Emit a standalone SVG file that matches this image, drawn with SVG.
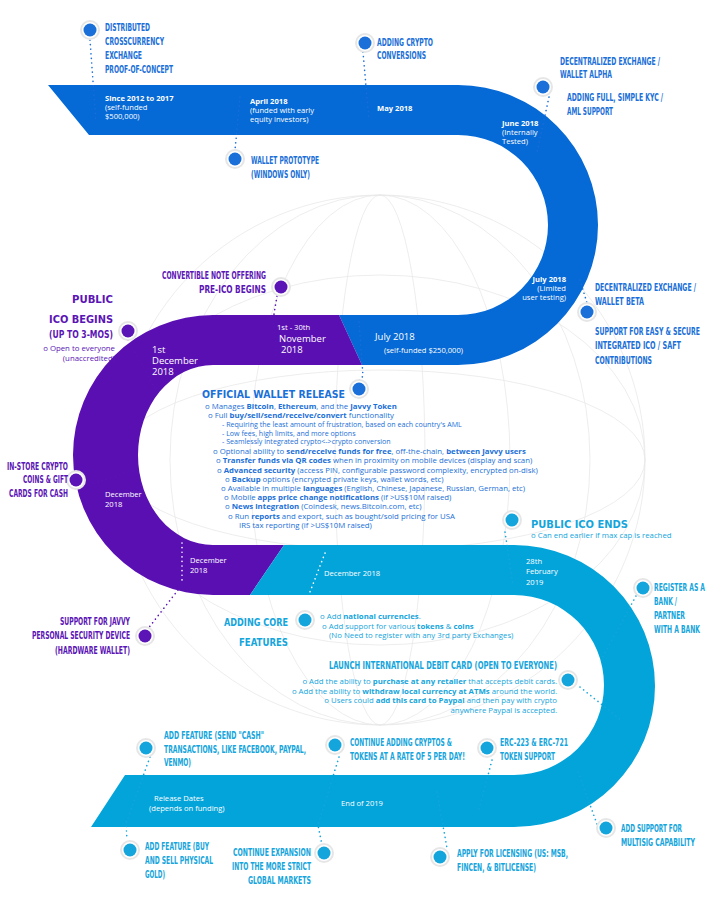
<svg xmlns="http://www.w3.org/2000/svg" width="710" height="911" viewBox="0 0 710 911">
<style>
.h{font-family:"DejaVu Sans Condensed","Liberation Sans Narrow",sans-serif;font-weight:bold;font-size:11px}
.b{font-family:"Open Sans",Lato,sans-serif;font-size:7.8px}
.w{fill:#fff;font-family:"Open Sans",Lato,sans-serif;font-size:7.6px}
.wb{fill:#fff;font-family:"Open Sans",Lato,sans-serif;font-size:9.5px}
.bl{fill:#1a6fd8}.pu{fill:#5b14b5}.cy{fill:#14a5dc}
.s{font-weight:bold}
.dot{fill:none;stroke-width:1.6;stroke-linecap:round;stroke-dasharray:0.1 4.5}
.ring{fill:#fff;stroke:#e6e6e6;stroke-width:2}
.g{fill:none;stroke:#e9e9e9;stroke-width:0.8}
</style>
<rect width="710" height="911" fill="#fff"/>
<g id="globe">
<circle class="g" cx="380" cy="460" r="265"/>
<ellipse class="g" cx="380" cy="460" rx="265" ry="90"/>
<ellipse class="g" cx="380" cy="460" rx="130" ry="265"/>
<ellipse class="g" cx="380" cy="460" rx="210" ry="265"/>
<ellipse class="g" cx="380" cy="460" rx="265" ry="185"/>
<ellipse class="g" cx="380" cy="460" rx="45" ry="265"/>
</g>
<g id="bands">
<path fill="#0569d6" d="M48,85 L458,85 A140,140 0 0 1 458,365 L362,365 L339,315 L458,315 A90,90 0 0 0 458,135 L89,135 Z"/>
<path fill="#5a0fb3" d="M339,315 L362,365 L213,365 A75,90 0 0 0 213,545 L284,545 L250,595 L213,595 A140,140 0 0 1 213,315 Z"/>
<path fill="#03a4da" d="M284,545 L514,545 A141,141 0 0 1 514,827 L91,827 L125,775 L514,775 A90,90 0 0 0 514,595 L250,595 Z"/>
</g>
<g id="connectors">
<path class="dot" stroke="#1a6fd8" d="M90,40 L96,122"/>
<path class="dot" stroke="#1a6fd8" d="M240,97 L235,150"/>
<path class="dot" stroke="#1a6fd8" d="M363,52 L369,120"/>
<path class="dot" stroke="#1a6fd8" d="M549,97 L537,152"/>
<path class="dot" stroke="#1a6fd8" d="M580,280 L587,303"/>
<path class="dot" stroke="#1a6fd8" d="M359,322 L363,376 L359,381"/>
<path class="dot" stroke="#5b14b5" d="M277,296 L273,320 L277,356"/>
<path class="dot" stroke="#5b14b5" d="M128,340 L157,392"/>
<path class="dot" stroke="#5b14b5" d="M89,485 L134,470"/>
<path class="dot" stroke="#fff" d="M182,543 L182,583"/>
<path class="dot" stroke="#5b14b5" d="M178,590 L147,630"/>
<path class="dot" stroke="#fff" d="M325,553 L303,610"/>
<path class="dot" stroke="#14a5dc" d="M505,532 L513,585"/>
<path class="dot" stroke="#14a5dc" d="M636,596 L601,660"/>
<path class="dot" stroke="#14a5dc" d="M580,687 L621,720"/>
<path class="dot" stroke="#14a5dc" d="M150,757 L126,823 L127,840"/>
<path class="dot" stroke="#14a5dc" d="M339,757 L318,825 L322,845"/>
<path class="dot" stroke="#14a5dc" d="M492,760 L478,813"/>
<path class="dot" stroke="#14a5dc" d="M437,792 L447,848"/>
<path class="dot" stroke="#14a5dc" d="M578,772 L597,824"/>
</g>
<g id="band-labels">
<text class="w s" x="105" y="101">Since 2012 to 2017</text>
<text class="w" x="105" y="110">(self-funded</text>
<text class="w" x="105" y="119">$500,000)</text>
<text class="w s" x="250" y="104">April 2018</text>
<text class="w" x="250" y="113">(funded with early</text>
<text class="w" x="250" y="122">equity investors)</text>
<text class="w s" x="377" y="111">May 2018</text>
<text class="w s" x="502" y="126">June 2018</text>
<text class="w" x="502" y="135">(Internally</text>
<text class="w" x="502" y="144">Tested)</text>
<text class="w s" x="566" y="282" text-anchor="end">July 2018</text>
<text class="w" x="566" y="291" text-anchor="end">(Limited</text>
<text class="w" x="566" y="300" text-anchor="end">user testing)</text>
<text class="w" x="277" y="330" font-size="6.5">1st - 30th</text>
<text class="wb" x="279" y="342">November</text>
<text class="wb" x="281" y="353">2018</text>
<text class="wb" x="375" y="340">July 2018</text>
<text class="w" x="384" y="353">(self-funded $250,000)</text>
<text class="wb" x="152" y="353">1st</text>
<text class="wb" x="152" y="364">December</text>
<text class="wb" x="152" y="375">2018</text>
<text class="w" x="105" y="497" font-size="8.3">December</text>
<text class="w" x="105" y="507" font-size="8.3">2018</text>
<text class="w" x="190" y="563" font-size="8.3">December</text>
<text class="w" x="190" y="573" font-size="8.3">2018</text>
<text class="w" x="324" y="576" font-size="8.3">December 2018</text>
<text class="w" x="526" y="564" font-size="8.6">28th</text>
<text class="w" x="526" y="574" font-size="8.6">February</text>
<text class="w" x="526" y="585" font-size="8.6">2019</text>
<text class="w" x="154" y="801">Release Dates</text>
<text class="w" x="149" y="811">(depends on funding)</text>
<text class="w" x="341" y="806" font-size="8.6">End of 2019</text>
</g>
<g id="n1"><circle class="ring" cx="90" cy="30" r="9"/><circle cx="90" cy="30" r="6.5" fill="#1a6fd8"/>
<text class="h bl" x="105" y="31" textLength="45" lengthAdjust="spacingAndGlyphs">DISTRIBUTED</text>
<text class="h bl" x="105" y="45" textLength="59" lengthAdjust="spacingAndGlyphs">CROSSCURRENCY</text>
<text class="h bl" x="105" y="59" textLength="37" lengthAdjust="spacingAndGlyphs">EXCHANGE</text>
<text class="h bl" x="105" y="73" textLength="68" lengthAdjust="spacingAndGlyphs">PROOF-OF-CONCEPT</text></g>
<g id="n2"><circle class="ring" cx="235" cy="159" r="9"/><circle cx="235" cy="159" r="6.5" fill="#1a6fd8"/>
<text class="h bl" x="251" y="164" textLength="68" lengthAdjust="spacingAndGlyphs">WALLET PROTOTYPE</text>
<text class="h bl" x="251" y="178" textLength="59" lengthAdjust="spacingAndGlyphs">(WINDOWS ONLY)</text></g>
<g id="n3"><circle class="ring" cx="365" cy="43" r="9"/><circle cx="365" cy="43" r="6.5" fill="#1a6fd8"/>
<text class="h bl" x="377" y="46" textLength="56" lengthAdjust="spacingAndGlyphs">ADDING CRYPTO</text>
<text class="h bl" x="377" y="59" textLength="49" lengthAdjust="spacingAndGlyphs">CONVERSIONS</text></g>
<g id="n4"><circle class="ring" cx="543" cy="87" r="9"/><circle cx="543" cy="87" r="6.5" fill="#1a6fd8"/>
<text class="h bl" x="560" y="65" textLength="100" lengthAdjust="spacingAndGlyphs">DECENTRALIZED EXCHANGE /</text>
<text class="h bl" x="560" y="78" textLength="52" lengthAdjust="spacingAndGlyphs">WALLET ALPHA</text>
<text class="h bl" x="567" y="101" textLength="96" lengthAdjust="spacingAndGlyphs">ADDING FULL, SIMPLE KYC /</text>
<text class="h bl" x="567" y="115" textLength="46" lengthAdjust="spacingAndGlyphs">AML SUPPORT</text></g>
<g id="n5"><circle class="ring" cx="587" cy="312" r="9"/><circle cx="587" cy="312" r="6.5" fill="#1a6fd8"/>
<text class="h bl" x="595" y="291" textLength="101" lengthAdjust="spacingAndGlyphs">DECENTRALIZED EXCHANGE /</text>
<text class="h bl" x="595" y="305" textLength="49" lengthAdjust="spacingAndGlyphs">WALLET BETA</text>
<text class="h bl" x="595" y="335" textLength="105" lengthAdjust="spacingAndGlyphs">SUPPORT FOR EASY &amp; SECURE</text>
<text class="h bl" x="595" y="349" textLength="86" lengthAdjust="spacingAndGlyphs">INTEGRATED ICO / SAFT</text>
<text class="h bl" x="595" y="364" textLength="57" lengthAdjust="spacingAndGlyphs">CONTRIBUTIONS</text></g>
<g id="n6"><circle class="ring" cx="281" cy="287" r="9"/><circle cx="281" cy="287" r="6.5" fill="#5b14b5"/>
<text class="h pu" x="266" y="279" text-anchor="end" textLength="104" lengthAdjust="spacingAndGlyphs">CONVERTIBLE NOTE OFFERING</text>
<text class="h pu" x="266" y="293" text-anchor="end" textLength="67" lengthAdjust="spacingAndGlyphs" font-size="12">PRE-ICO BEGINS</text></g>
<g id="n7"><circle class="ring" cx="128" cy="331" r="9"/><circle cx="128" cy="331" r="6.5" fill="#5b14b5"/>
<text class="h pu" x="113" y="303" text-anchor="end" textLength="41" lengthAdjust="spacingAndGlyphs" font-size="17">PUBLIC</text>
<text class="h pu" x="113" y="323" text-anchor="end" textLength="64" lengthAdjust="spacingAndGlyphs" font-size="17">ICO BEGINS</text>
<text class="h pu" x="113" y="338" text-anchor="end" textLength="64" lengthAdjust="spacingAndGlyphs" font-size="12">(UP TO 3-MOS)</text>
<text class="b pu" x="115" y="351" text-anchor="end">o Open to everyone</text>
<text class="b pu" x="115" y="361" text-anchor="end">(unaccredited)</text></g>
<g id="n8"><circle class="ring" cx="359" cy="389" r="9"/><circle cx="359" cy="389" r="6.5" fill="#1a6fd8"/>
<text class="h bl" x="202" y="398" textLength="143" lengthAdjust="spacingAndGlyphs" font-size="17">OFFICIAL WALLET RELEASE</text>
<g class="b bl">
<text x="205" y="409">o Manages <tspan class="s">Bitcoin</tspan>, <tspan class="s">Ethereum</tspan>, and the <tspan class="s">Javvy Token</tspan></text>
<text x="208" y="418">o Full <tspan class="s">buy/sell/send/receive/convert</tspan> functionality</text>
<text x="222" y="427" font-size="7.1">-   Requiring the least amount of frustration, based on each country's AML</text>
<text x="222" y="436" font-size="7.1">-   Low fees, high limits, and more options</text>
<text x="222" y="444" font-size="7.1">-   Seamlessly integrated crypto&lt;-&gt;crypto conversion</text>
<text x="213" y="454">o Optional ability to <tspan class="s">send/receive funds for free</tspan>, off-the-chain, <tspan class="s">between Javvy users</tspan></text>
<text x="216" y="463">o <tspan class="s">Transfer funds via QR codes</tspan> when in proximity on mobile devices (display and scan)</text>
<text x="217" y="473">o <tspan class="s">Advanced security</tspan> (access PIN, configurable password complexity, encrypted on-disk)</text>
<text x="225" y="482">o <tspan class="s">Backup</tspan> options (encrypted private keys, wallet words, etc)</text>
<text x="221" y="491">o Available in multiple <tspan class="s">languages</tspan> (English, Chinese, Japanese, Russian, German, etc)</text>
<text x="224" y="500">o Mobile <tspan class="s">apps price change notifications</tspan> (if  &gt;US$10M raised)</text>
<text x="225" y="509">o <tspan class="s">News integration</tspan> (Coindesk, news.Bitcoin.com, etc)</text>
<text x="228" y="519">o Run <tspan class="s">reports</tspan> and export, such as bought/sold pricing for USA</text>
<text x="239" y="528">IRS tax reporting (if &gt;US$10M raised)</text>
</g></g>
<g id="n9"><circle class="ring" cx="76" cy="480" r="9"/><circle cx="76" cy="480" r="6.5" fill="#5b14b5"/>
<text class="h pu" x="68" y="470" text-anchor="end" textLength="61" lengthAdjust="spacingAndGlyphs">IN-STORE CRYPTO</text>
<text class="h pu" x="68" y="483" text-anchor="end" textLength="45" lengthAdjust="spacingAndGlyphs">COINS &amp; GIFT</text>
<text class="h pu" x="68" y="497" text-anchor="end" textLength="59" lengthAdjust="spacingAndGlyphs">CARDS FOR CASH</text></g>
<g id="n10"><circle class="ring" cx="145" cy="636" r="9"/><circle cx="145" cy="636" r="6.5" fill="#5b14b5"/>
<text class="h pu" x="130" y="625" text-anchor="end" textLength="70" lengthAdjust="spacingAndGlyphs">SUPPORT FOR JAVVY</text>
<text class="h pu" x="130" y="639" text-anchor="end" textLength="98" lengthAdjust="spacingAndGlyphs">PERSONAL SECURITY DEVICE</text>
<text class="h pu" x="130" y="654" text-anchor="end" textLength="75" lengthAdjust="spacingAndGlyphs">(HARDWARE WALLET)</text></g>
<g id="n11"><circle class="ring" cx="305" cy="620" r="9"/><circle cx="305" cy="620" r="6.5" fill="#14a5dc"/>
<text class="h cy" x="288" y="626" text-anchor="end" textLength="64" lengthAdjust="spacingAndGlyphs" font-size="15">ADDING CORE</text>
<text class="h cy" x="288" y="646" text-anchor="end" textLength="49" lengthAdjust="spacingAndGlyphs" font-size="15">FEATURES</text>
<text class="b cy" x="320" y="619">o Add <tspan class="s">national currencies</tspan>.</text>
<text class="b cy" x="322" y="629">o Add support for various <tspan class="s">tokens</tspan> &amp; <tspan class="s">coins</tspan></text>
<text class="b cy" x="329" y="638">(No Need to register with any 3rd party Exchanges)</text></g>
<g id="n12"><circle class="ring" cx="568" cy="680" r="9"/><circle cx="568" cy="680" r="6.5" fill="#14a5dc"/>
<text class="h cy" x="557" y="669" text-anchor="end" textLength="228" lengthAdjust="spacingAndGlyphs">LAUNCH INTERNATIONAL DEBIT CARD (OPEN TO EVERYONE)</text>
<g class="b cy" text-anchor="end">
<text x="557" y="684">o Add the ability to <tspan class="s">purchase at any retailer</tspan> that accepts debit cards.</text>
<text x="557" y="694">o Add the ability to <tspan class="s">withdraw local currency at ATMs</tspan> around the world.</text>
<text x="557" y="703">o Users could <tspan class="s">add this card to Paypal</tspan> and then pay with crypto</text>
<text x="557" y="713">anywhere Paypal is accepted.</text></g></g>
<g id="n13"><circle class="ring" cx="512" cy="520" r="9"/><circle cx="512" cy="520" r="6.5" fill="#14a5dc"/>
<text class="h cy" x="531" y="528" textLength="97" lengthAdjust="spacingAndGlyphs" font-size="17">PUBLIC ICO ENDS</text>
<text class="b cy" x="531" y="538">o Can end earlier if max cap is reached</text></g>
<g id="n14"><circle class="ring" cx="643" cy="588" r="9"/><circle cx="643" cy="588" r="6.5" fill="#14a5dc"/>
<text class="h cy" x="654" y="591" textLength="51" lengthAdjust="spacingAndGlyphs">REGISTER AS A</text>
<text class="h cy" x="654" y="605" textLength="23" lengthAdjust="spacingAndGlyphs">BANK /</text>
<text class="h cy" x="654" y="619" textLength="31" lengthAdjust="spacingAndGlyphs">PARTNER</text>
<text class="h cy" x="654" y="633" textLength="46" lengthAdjust="spacingAndGlyphs">WITH A BANK</text></g>
<g id="n15"><circle class="ring" cx="146" cy="748" r="9"/><circle cx="146" cy="748" r="6.5" fill="#14a5dc"/>
<text class="h cy" x="164" y="739" textLength="100" lengthAdjust="spacingAndGlyphs">ADD FEATURE (SEND "CASH"</text>
<text class="h cy" x="164" y="753" textLength="142" lengthAdjust="spacingAndGlyphs">TRANSACTIONS, LIKE FACEBOOK, PAYPAL,</text>
<text class="h cy" x="164" y="766" textLength="27" lengthAdjust="spacingAndGlyphs">VENMO)</text></g>
<g id="n16"><circle class="ring" cx="335" cy="745" r="9"/><circle cx="335" cy="745" r="6.5" fill="#14a5dc"/>
<text class="h cy" x="350" y="746" textLength="102" lengthAdjust="spacingAndGlyphs">CONTINUE ADDING CRYPTOS &amp;</text>
<text class="h cy" x="350" y="760" textLength="115" lengthAdjust="spacingAndGlyphs">TOKENS AT A RATE OF 5 PER DAY!</text></g>
<g id="n17"><circle class="ring" cx="487" cy="748" r="9"/><circle cx="487" cy="748" r="6.5" fill="#14a5dc"/>
<text class="h cy" x="500" y="746" textLength="68" lengthAdjust="spacingAndGlyphs">ERC-223 &amp; ERC-721</text>
<text class="h cy" x="500" y="760" textLength="55" lengthAdjust="spacingAndGlyphs">TOKEN SUPPORT</text></g>
<g id="n18"><circle class="ring" cx="130" cy="850" r="9"/><circle cx="130" cy="850" r="6.5" fill="#14a5dc"/>
<text class="h cy" x="145" y="850" textLength="64" lengthAdjust="spacingAndGlyphs">ADD FEATURE (BUY</text>
<text class="h cy" x="145" y="864" textLength="68" lengthAdjust="spacingAndGlyphs">AND SELL PHYSICAL</text>
<text class="h cy" x="145" y="878" textLength="20" lengthAdjust="spacingAndGlyphs">GOLD)</text></g>
<g id="n19"><circle class="ring" cx="324" cy="853" r="9"/><circle cx="324" cy="853" r="6.5" fill="#14a5dc"/>
<text class="h cy" x="311" y="856" text-anchor="end" textLength="78" lengthAdjust="spacingAndGlyphs">CONTINUE EXPANSION</text>
<text class="h cy" x="311" y="870" text-anchor="end" textLength="79" lengthAdjust="spacingAndGlyphs">INTO THE MORE STRICT</text>
<text class="h cy" x="311" y="884" text-anchor="end" textLength="63" lengthAdjust="spacingAndGlyphs">GLOBAL MARKETS</text></g>
<g id="n20"><circle class="ring" cx="440" cy="857" r="9"/><circle cx="440" cy="857" r="6.5" fill="#14a5dc"/>
<text class="h cy" x="457" y="857" textLength="111" lengthAdjust="spacingAndGlyphs">APPLY FOR LICENSING (US: MSB,</text>
<text class="h cy" x="457" y="871" textLength="79" lengthAdjust="spacingAndGlyphs">FINCEN, &amp; BITLICENSE)</text></g>
<g id="n21"><circle class="ring" cx="606" cy="828" r="9"/><circle cx="606" cy="828" r="6.5" fill="#14a5dc"/>
<text class="h cy" x="621" y="832" textLength="61" lengthAdjust="spacingAndGlyphs">ADD SUPPORT FOR</text>
<text class="h cy" x="621" y="846" textLength="74" lengthAdjust="spacingAndGlyphs">MULTISIG CAPABILITY</text></g>
</svg>
